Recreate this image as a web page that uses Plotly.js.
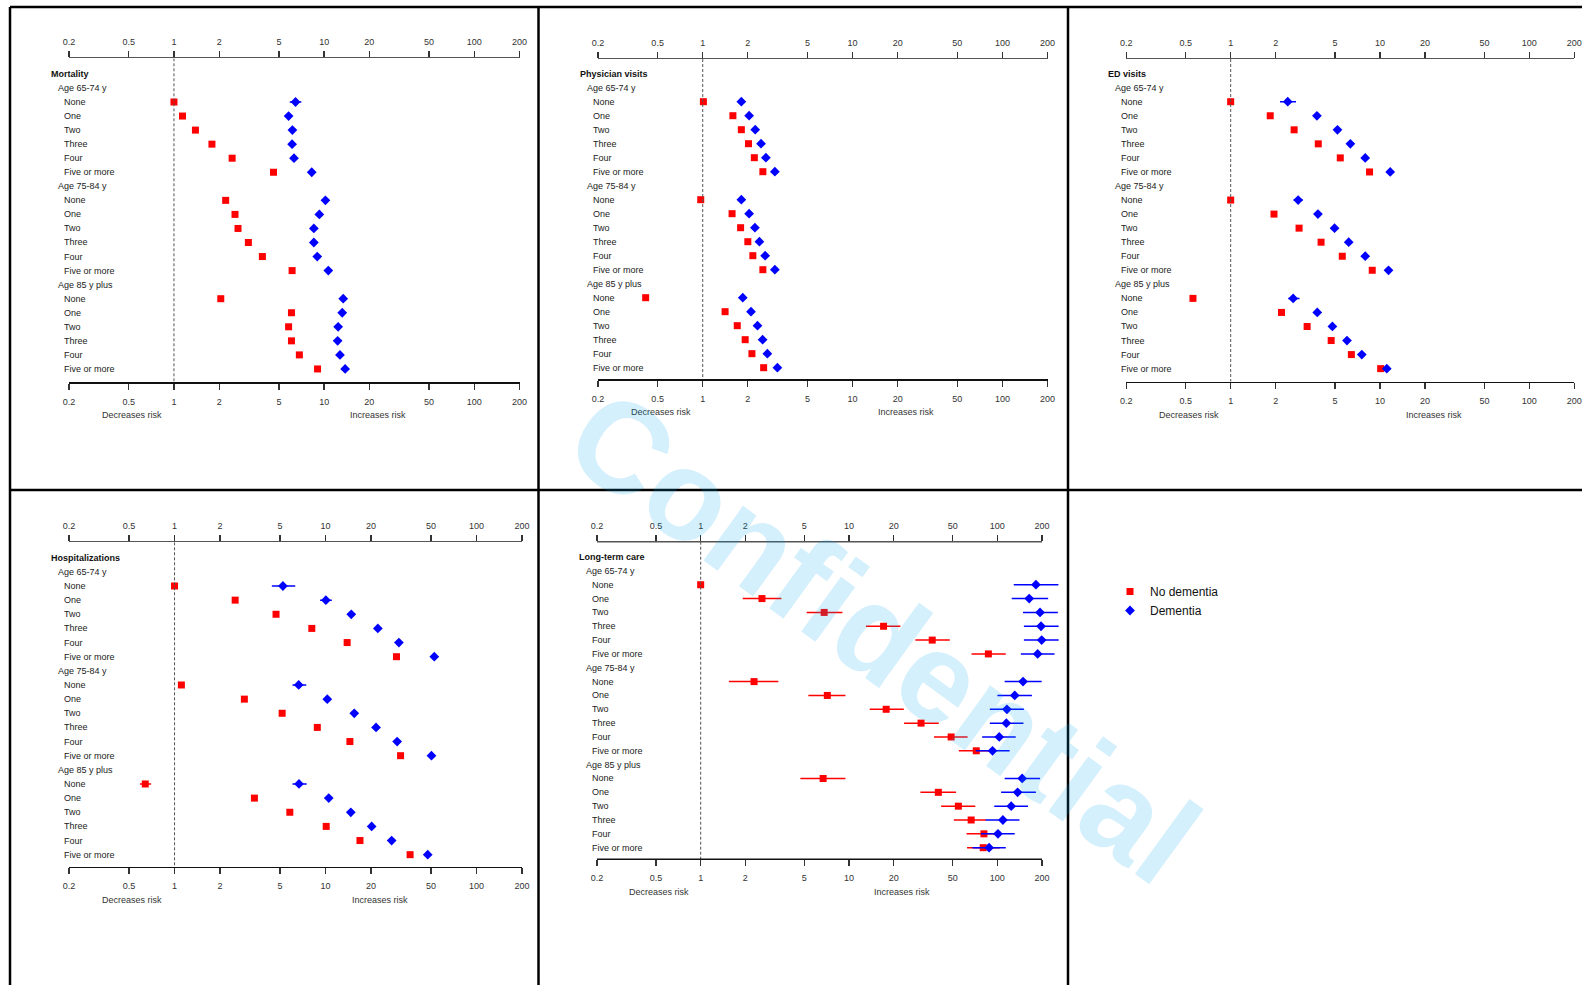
<!DOCTYPE html>
<html><head><meta charset="utf-8">
<script src="https://cdn.plot.ly/plotly-3.0.1.min.js"></script>
<style>html,body{margin:0;padding:0;background:#fff;} #chart{width:1582px;height:985px;}</style>
</head><body><div id="chart"></div>
<script>
// ---------------- DATA ----------------
const axisTickValues = [0.2, 0.5, 1, 2, 5, 10, 20, 50, 100, 200];
const axisTickLabels = ['0.2', '0.5', '1', '2', '5', '10', '20', '50', '100', '200'];
const panelTitles = ['Mortality', 'Physician visits', 'ED visits', 'Hospitalizations', 'Long-term care'];
const ageGroups = ['Age 65-74 y', 'Age 75-84 y', 'Age 85 y plus'];
const comorbidityLevels = ['None', 'One', 'Two', 'Three', 'Four', 'Five or more'];
const seriesNames = ['No dementia', 'Dementia'];
const directionLabels = ['Decreases risk', 'Increases risk'];
const watermarkText = 'Confidential';

// Mortality
const mortalityNoDementia   = [1.00,1.14,1.39,1.79,2.44,4.60, 2.21,2.55,2.67,3.13,3.88,6.12, 2.05,6.06,5.80,6.06,6.84,9.04];
const mortalityNoDementiaLo = [0.98,1.11,1.36,1.75,2.38,4.48, 2.17,2.51,2.63,3.08,3.80,5.96, 2.00,5.92,5.64,5.93,6.67,8.80];
const mortalityNoDementiaHi = [1.02,1.17,1.42,1.83,2.50,4.72, 2.25,2.59,2.71,3.18,3.96,6.28, 2.10,6.20,5.96,6.19,7.01,9.28];
const mortalityDementia     = [6.45,5.80,6.15,6.12,6.30,8.27, 10.2,9.29,8.54,8.54,9.00,10.66, 13.4,13.2,12.4,12.3,12.75,13.8];
const mortalityDementiaLo   = [5.90,5.55,5.92,5.90,6.05,7.95, 9.75,8.95,8.25,8.25,8.70,10.25, 12.95,12.80,12.05,11.95,12.35,13.35];
const mortalityDementiaHi   = [7.05,6.06,6.39,6.35,6.56,8.60, 10.7,9.65,8.85,8.85,9.32,11.10, 13.9,13.6,12.75,12.65,13.15,14.25];

// Physician visits
const physicianNoDementia   = [1.01,1.59,1.81,2.02,2.21,2.52, 0.97,1.57,1.79,2.00,2.16,2.52, 0.416,1.41,1.70,1.92,2.13,2.55];
const physicianNoDementiaLo = [0.99,1.56,1.78,1.99,2.17,2.48, 0.95,1.54,1.76,1.97,2.12,2.48, 0.405,1.38,1.67,1.89,2.09,2.50];
const physicianNoDementiaHi = [1.03,1.62,1.84,2.05,2.25,2.56, 0.99,1.60,1.82,2.03,2.20,2.56, 0.427,1.44,1.73,1.95,2.17,2.60];
const physicianDementia     = [1.81,2.04,2.24,2.45,2.64,3.03, 1.81,2.04,2.23,2.39,2.61,3.03, 1.85,2.10,2.32,2.51,2.70,3.15];
const physicianDementiaLo   = [1.77,2.00,2.20,2.41,2.60,2.98, 1.77,2.00,2.19,2.34,2.57,2.98, 1.81,2.06,2.27,2.47,2.65,3.09];
const physicianDementiaHi   = [1.85,2.08,2.28,2.49,2.68,3.08, 1.85,2.08,2.27,2.44,2.65,3.08, 1.89,2.14,2.37,2.55,2.75,3.21];

// ED visits
const edNoDementia   = [1.00,1.84,2.66,3.86,5.42,8.51, 1.00,1.95,2.87,4.03,5.59,8.87, 0.559,2.19,3.25,4.71,6.43,10.1];
const edNoDementiaLo = [0.98,1.80,2.60,3.78,5.31,8.32, 0.98,1.91,2.81,3.95,5.47,8.68, 0.545,2.13,3.18,4.61,6.29,9.85];
const edNoDementiaHi = [1.02,1.88,2.72,3.94,5.53,8.70, 1.02,1.99,2.93,4.11,5.71,9.06, 0.573,2.25,3.32,4.81,6.57,10.35];
const edDementia     = [2.41,3.78,5.19,6.33,7.96,11.7, 2.83,3.84,4.96,6.17,7.96,11.4, 2.62,3.80,4.80,6.01,7.55,11.1];
const edDementiaLo   = [2.14,3.66,5.04,6.15,7.74,11.3, 2.64,3.72,4.81,5.99,7.74,11.0, 2.43,3.68,4.65,5.84,7.34,10.7];
const edDementiaHi   = [2.74,3.90,5.35,6.52,8.19,12.1, 3.04,3.97,5.12,6.36,8.19,11.8, 2.89,3.93,4.96,6.19,7.77,11.5];

// Hospitalizations
const hospNoDementia   = [1.00,2.52,4.70,8.11,13.9,29.5, 1.11,2.90,5.16,8.82,14.5,31.4, 0.64,3.38,5.80,10.1,16.9,36.3];
const hospNoDementiaLo = [0.97,2.45,4.58,7.91,13.5,28.6, 1.08,2.82,5.02,8.59,14.1,30.5, 0.59,3.27,5.63,9.80,16.4,35.1];
const hospNoDementiaHi = [1.03,2.59,4.82,8.32,14.3,30.4, 1.14,2.98,5.30,9.05,14.9,32.3, 0.70,3.49,5.97,10.4,17.4,37.5];
const hospDementia     = [5.22,10.05,14.8,22.2,30.6,52.5, 6.64,10.27,15.5,21.6,29.8,50.3, 6.67,10.5,14.7,20.2,27.4,47.5];
const hospDementiaLo   = [4.41,9.20,14.0,21.3,29.5,50.5, 6.04,9.75,14.8,20.8,28.7,48.5, 6.04,9.90,14.1,19.5,26.4,45.8];
const hospDementiaHi   = [6.30,11.0,15.7,23.2,31.8,54.6, 7.45,10.85,16.3,22.5,31.0,52.2, 7.50,11.1,15.3,21.0,28.5,49.3];

// Long-term care
const ltcNoDementia   = [1.00,2.59,6.80,17.1,36.4,87.0, 2.29,7.14,17.8,30.6,48.8,72.1, 6.69,40.0,54.6,66.6,81.2,80.3];
const ltcNoDementiaLo = [0.97,1.92,5.18,13.0,28.0,67.0, 1.55,5.32,13.8,23.5,37.4,55.0, 4.70,30.3,41.8,50.9,62.0,62.5];
const ltcNoDementiaHi = [1.03,3.50,9.03,22.2,47.8,114, 3.34,9.46,23.4,40.3,63.0,94.6, 9.46,52.7,71.0,83.8,103,104];
const ltcDementia     = [182,164,194,197,199,187, 149,131,116,115,103,92.8, 147,137,124,109,101,88.0];
const ltcDementiaLo   = [129,125,149,151,151,144, 112,100,89.0,89.0,79.0,71.6, 112,106,95.3,83.3,77.5,68.0];
const ltcDementiaHi   = [258,220,256,259,259,243, 199,171,151,150,133,121, 194,182,161,141,131,114];

// ---------------- LAYOUT CONFIG ----------------
const W = 1582, H = 985;
const RED = '#ff0000', BLUE = '#0000ff';
const FONT = 'Liberation Sans, Arial, Helvetica, sans-serif';

// px0/px1: pixel positions of the 0.2 and 200 ticks; ext: extra plotting room right of 200 (for CIs running past the scale)
const panels = [
  {title: panelTitles[0], nd: [mortalityNoDementia, mortalityNoDementiaLo, mortalityNoDementiaHi], d: [mortalityDementia, mortalityDementiaLo, mortalityDementiaHi],
   px0: 69, px1: 519.5, ext: 0, pyTop: 58.3, pyBot: 382.3, rTop: -1.11, rBot: 21.95},
  {title: panelTitles[1], nd: [physicianNoDementia, physicianNoDementiaLo, physicianNoDementiaHi], d: [physicianDementia, physicianDementiaLo, physicianDementiaHi],
   px0: 598, px1: 1047.5, ext: 0, pyTop: 59, pyBot: 379.3, rTop: -1.05, rBot: 21.83},
  {title: panelTitles[2], nd: [edNoDementia, edNoDementiaLo, edNoDementiaHi], d: [edDementia, edDementiaLo, edDementiaHi],
   px0: 1126.3, px1: 1574.3, ext: 0, pyTop: 59, pyBot: 381.7, rTop: -1.04, rBot: 21.93},
  {title: panelTitles[3], nd: [hospNoDementia, hospNoDementiaLo, hospNoDementiaHi], d: [hospDementia, hospDementiaLo, hospDementiaHi],
   px0: 69, px1: 522, ext: 0, pyTop: 542.3, pyBot: 866.7, rTop: -1.09, rBot: 21.85},
  {title: panelTitles[4], nd: [ltcNoDementia, ltcNoDementiaLo, ltcNoDementiaHi], d: [ltcDementia, ltcDementiaLo, ltcDementiaHi],
   px0: 597, px1: 1042, ext: 45, pyTop: 541.7, pyBot: 859.3, rTop: -1.11, rBot: 21.84}
];

// row index of each data point: title row 0, group header rows 1/8/15
const rowOf = [];
ageGroups.forEach((g, gi) => comorbidityLevels.forEach((c, ci) => rowOf.push(2 + gi * (comorbidityLevels.length + 1) + ci)));

const logMin = Math.log10(axisTickValues[0]);
const logMax = Math.log10(axisTickValues[axisTickValues.length - 1]);

const traces = [];
const layout = {
  width: W, height: H,
  margin: {l: 0, r: 0, t: 0, b: 0, pad: 0},
  paper_bgcolor: '#ffffff', plot_bgcolor: 'rgba(0,0,0,0)',
  font: {family: FONT, size: 9, color: '#222'},
  showlegend: true,
  legend: {x: 1110 / W, y: 1 - 577 / H, xanchor: 'left', yanchor: 'top', bgcolor: 'rgba(0,0,0,0)',
           font: {family: FONT, size: 12, color: '#111'}, tracegroupgap: 0, itemwidth: 30},
  annotations: [], shapes: []
};

panels.forEach((p, i) => {
  const n = i + 1;
  const xb = n === 1 ? 'x' : 'x' + n;
  const xt = 'x' + (n + 5);
  const ya = n === 1 ? 'y' : 'y' + n;
  const scaleW = p.px1 - p.px0;
  const rangeMax = logMax + p.ext * (logMax - logMin) / scaleW;
  const xDomain = [p.px0 / W, (p.px1 + p.ext) / W];
  const yDomain = [1 - p.pyBot / H, 1 - p.pyTop / H];
  const drawLine = p.ext === 0;
  const axCommon = {
    type: 'log', range: [logMin, rangeMax], showgrid: false, zeroline: false, showline: drawLine, linewidth: 1.5,
    ticks: 'outside', ticklen: 6, tickwidth: 1.3, tickcolor: '#333',
    tickmode: 'array', tickvals: axisTickValues, ticktext: axisTickLabels,
    tickfont: {family: FONT, size: 9, color: '#333'}, fixedrange: true
  };
  layout[n === 1 ? 'xaxis' : 'xaxis' + n] = Object.assign({}, axCommon, {domain: xDomain, anchor: ya, side: 'bottom', linecolor: '#111', ticklabelstandoff: 4});
  layout['xaxis' + (n + 5)] = Object.assign({}, axCommon, {overlaying: xb, anchor: ya, side: 'top', linecolor: '#555', ticklabelstandoff: 2});
  layout[n === 1 ? 'yaxis' : 'yaxis' + n] = {domain: yDomain, range: [p.rBot, p.rTop], visible: false, fixedrange: true, anchor: xb};

  if (!drawLine) {
    const fEnd = scaleW / (scaleW + p.ext);
    layout.shapes.push({type: 'line', xref: xb + ' domain', yref: ya + ' domain', x0: 0, x1: fEnd, y0: 0, y1: 0, line: {color: '#111', width: 1.5}});
    layout.shapes.push({type: 'line', xref: xb + ' domain', yref: ya + ' domain', x0: 0, x1: fEnd, y0: 1, y1: 1, line: {color: '#555', width: 1.5}});
  }

  // reference line at 1
  traces.push({x: [1, 1], y: [p.rTop, p.rBot], xaxis: xt, yaxis: ya, mode: 'lines', showlegend: false, hoverinfo: 'skip',
               line: {color: '#555', width: 1, dash: '3px,2px'}});

  const mk = (vals, name, color, symbol, size) => ({
    x: vals[0], y: rowOf, xaxis: xb, yaxis: ya, mode: 'markers', name: name, legendgroup: name,
    showlegend: i === 0, cliponaxis: false,
    marker: {symbol: symbol, size: size, color: color, line: {width: 0}},
    error_x: {type: 'data', symmetric: false, array: vals[0].map((v, k) => vals[2][k] - v),
              arrayminus: vals[0].map((v, k) => v - vals[1][k]), color: color, thickness: 1.5, width: 0}
  });
  traces.push(mk(p.nd, seriesNames[0], RED, 'square', 7));
  traces.push(mk(p.d, seriesNames[1], BLUE, 'diamond', 7.5));

  // row labels
  const xr = xb + ' domain';
  const fx = v => v * scaleW / (scaleW + p.ext); // fraction of the 0.2-200 scale -> domain fraction
  layout.annotations.push({xref: xr, yref: ya, x: 0, y: 0, xshift: -20, xanchor: 'left', yanchor: 'middle', showarrow: false,
                           text: '<b>' + p.title + '</b>', font: {family: FONT, size: 9, color: '#111'}});
  ageGroups.forEach((g, gi) => {
    layout.annotations.push({xref: xr, yref: ya, x: 0, y: 1 + gi * (comorbidityLevels.length + 1), xshift: -13.5, xanchor: 'left', yanchor: 'middle',
                             showarrow: false, text: g, font: {family: FONT, size: 9, color: '#222'}});
    comorbidityLevels.forEach((c, ci) => {
      layout.annotations.push({xref: xr, yref: ya, x: 0, y: rowOf[gi * comorbidityLevels.length + ci], xshift: -7, xanchor: 'left', yanchor: 'middle',
                               showarrow: false, text: c, font: {family: FONT, size: 9, color: '#222'}});
    });
  });
  // direction labels
  [0.14, 0.686].forEach((f, di) => {
    layout.annotations.push({xref: xr, yref: 'paper', x: fx(f), y: 1 - (p.pyBot + 33) / H, xanchor: 'center', yanchor: 'middle',
                             showarrow: false, text: directionLabels[di], font: {family: FONT, size: 9, color: '#333'}});
  });
});

// panel frame lines
const frame = [
  [10, 7, W, 7], [10, 490, W, 490],
  [10, 7, 10, H], [538.5, 7, 538.5, H], [1068, 7, 1068, H]
];
frame.forEach(f => layout.shapes.push({type: 'line', xref: 'paper', yref: 'paper', x0: f[0] / W, y0: 1 - f[1] / H, x1: f[2] / W, y1: 1 - f[3] / H,
                                       line: {color: '#000', width: 2.5}, layer: 'above'}));

// watermark
layout.annotations.push({xref: 'paper', yref: 'paper', x: 884 / W, y: 1 - 636 / H, xanchor: 'center', yanchor: 'middle', showarrow: false,
                         text: watermarkText, textangle: 36,
                         font: {family: FONT, size: 128, color: 'rgba(0,165,240,0.17)', weight: 'bold'}});

Plotly.newPlot('chart', traces, layout, {displayModeBar: false, staticPlot: true});
</script>
</body></html>
